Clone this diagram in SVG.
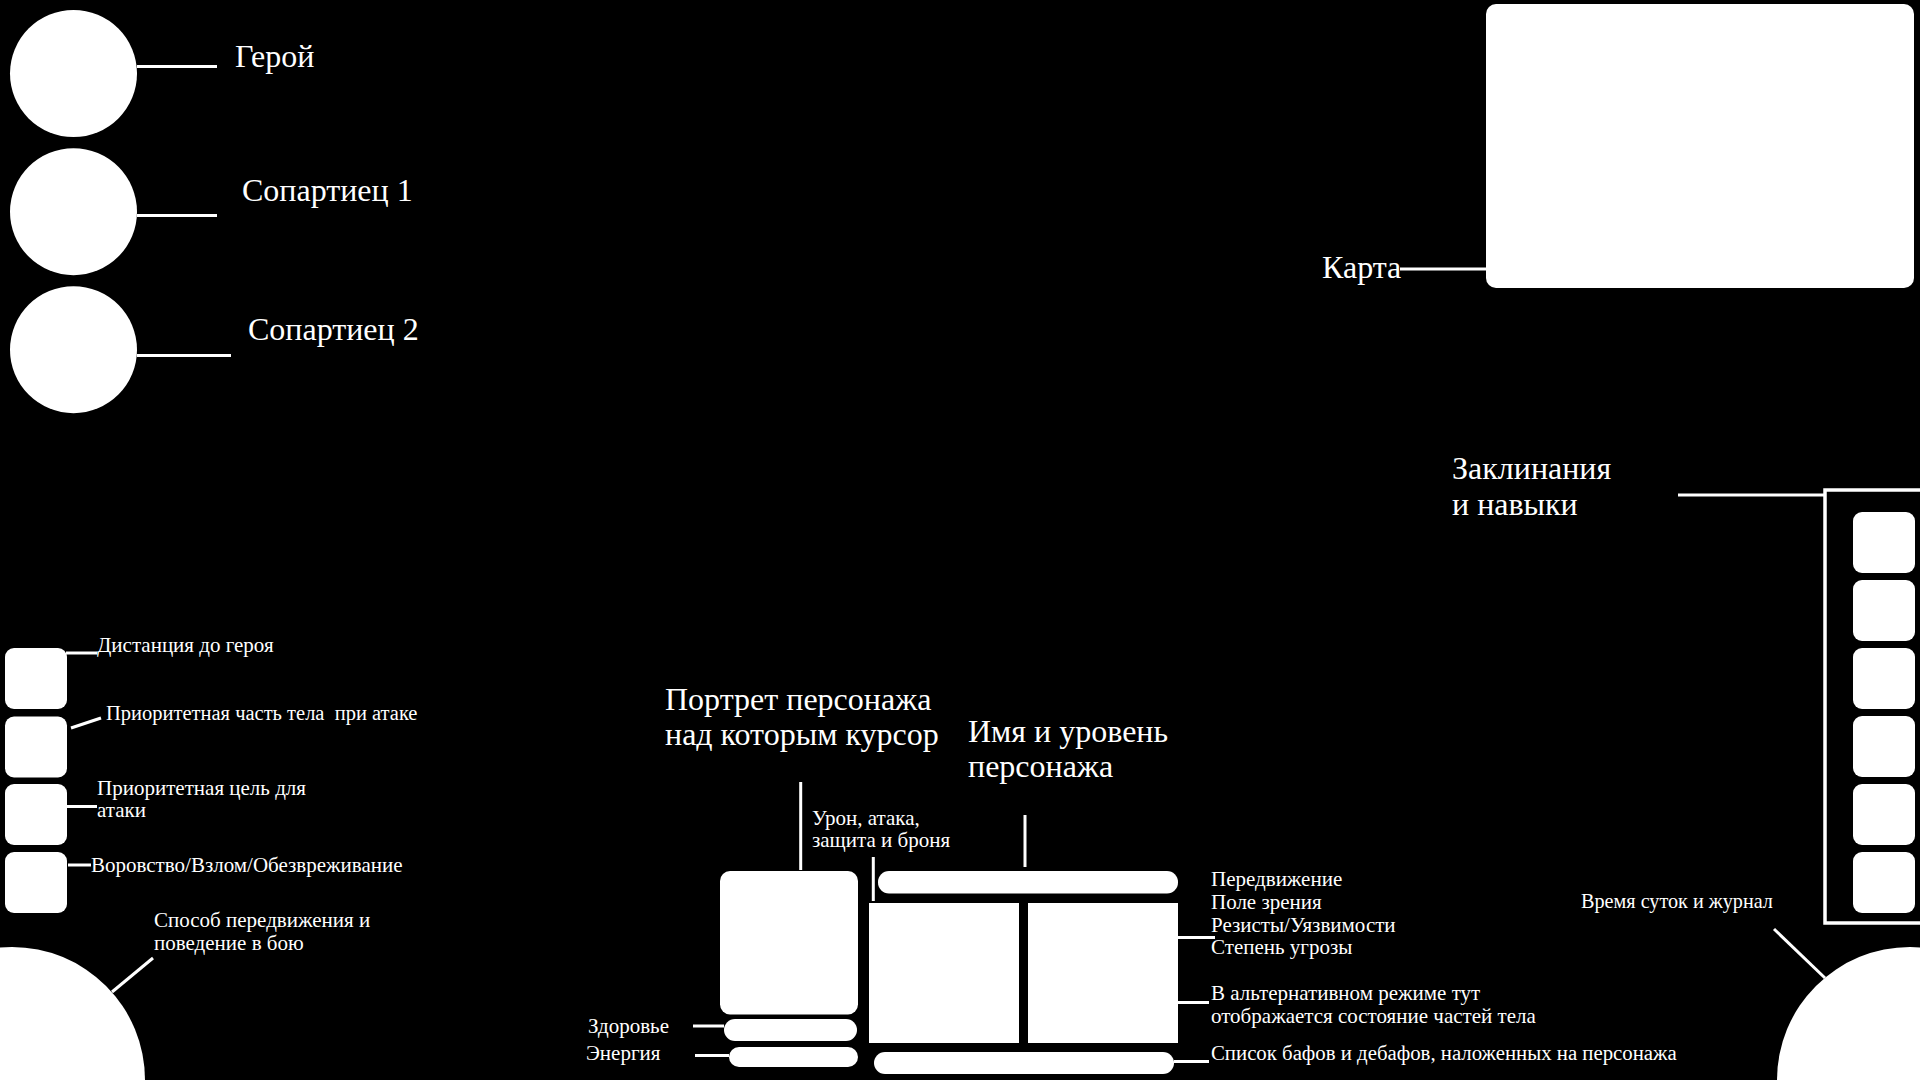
<svg xmlns="http://www.w3.org/2000/svg" width="1920" height="1080" viewBox="0 0 1920 1080">
<style>
.shape{fill:#fff}
.ln{stroke:#fff;stroke-width:3;fill:none}
text{white-space:pre}
.big{font-family:"Liberation Serif","Times New Roman",serif;font-size:32px;fill:#fff}
.mid{font-family:"Liberation Serif","Times New Roman",serif;font-size:32px;fill:#fff}
.sm{font-family:"Liberation Serif","Times New Roman",serif;font-size:21px;fill:#fff}
</style>
<rect x="0" y="0" width="1920" height="1080" fill="#000"/>
<g id="hero"><circle class="shape" cx="73.5" cy="73.5" r="63.5"/><text class="big" x="235" y="67">Герой</text></g>
<g id="companion1"><circle class="shape" cx="73.5" cy="211.7" r="63.5"/><text class="big" x="242" y="201">Сопартиец 1</text></g>
<g id="companion2"><circle class="shape" cx="73.5" cy="349.7" r="63.5"/><text class="big" x="248" y="340">Сопартиец 2</text></g>
<g id="map"><rect class="shape" x="1486" y="4" width="428" height="284" rx="10"/><text class="big" x="1322" y="278">Карта</text></g>
<g id="spells">
<rect x="1825" y="490" width="110" height="433" fill="none" stroke="#fff" stroke-width="3.5"/>
<rect class="shape" x="1853" y="512" width="62" height="61" rx="9"/>
<rect class="shape" x="1853" y="580" width="62" height="61" rx="9"/>
<rect class="shape" x="1853" y="648" width="62" height="61" rx="9"/>
<rect class="shape" x="1853" y="716" width="62" height="61" rx="9"/>
<rect class="shape" x="1853" y="784" width="62" height="61" rx="9"/>
<rect class="shape" x="1853" y="852" width="62" height="61" rx="9"/>
<text class="big" x="1452" y="479">Заклинания</text>
<text class="big" x="1452" y="515">и навыки</text>
</g>
<g id="distance"><rect class="shape" x="5" y="648" width="62" height="61" rx="9"/><text class="sm" x="97" y="652">Дистанция до героя</text></g>
<g id="bodypart"><rect class="shape" x="5" y="716.5" width="62" height="61" rx="9"/><text class="sm" x="106" y="720" style="font-size:20.5px" xml:space="preserve">Приоритетная часть тела  при атаке</text></g>
<g id="target"><rect class="shape" x="5" y="784" width="62" height="61" rx="9"/><text class="sm" x="97" y="795">Приоритетная цель для</text><text class="sm" x="97" y="817">атаки</text></g>
<g id="thievery"><rect class="shape" x="5" y="852" width="62" height="61" rx="9"/><text class="sm" x="91" y="872">Воровство/Взлом/Обезвреживание</text></g>
<g id="behavior"><circle class="shape" cx="12" cy="1080" r="133"/><text class="sm" x="154" y="927">Способ передвижения и</text><text class="sm" x="154" y="950">поведение в бою</text></g>
<g id="timelog"><circle class="shape" cx="1910" cy="1080" r="133"/><text class="sm" x="1581" y="908" style="font-size:20.2px">Время суток и журнал</text></g>
<g id="portrait"><rect class="shape" x="720" y="871" width="138" height="143.5" rx="10"/><text class="mid" x="665" y="710">Портрет персонажа</text><text class="mid" x="665" y="745">над которым курсор</text></g>
<g id="health"><rect class="shape" x="724" y="1019" width="133" height="22" rx="11"/><text class="sm" x="588" y="1033">Здоровье</text></g>
<g id="energy"><rect class="shape" x="729" y="1047" width="129" height="20" rx="10"/><text class="sm" x="586" y="1060">Энергия</text></g>
<g id="namebar"><rect class="shape" x="878" y="871" width="300" height="22.5" rx="11"/><text class="mid" x="968" y="742">Имя и уровень</text><text class="mid" x="968" y="777">персонажа</text></g>
<g id="combatstats"><rect class="shape" x="869" y="903" width="150" height="140"/><text class="sm" x="812" y="825">Урон, атака,</text><text class="sm" x="812" y="847">защита и броня</text></g>
<g id="infopanel"><rect class="shape" x="1028" y="903" width="150" height="140"/>
<text class="sm" x="1211" y="886">Передвижение</text>
<text class="sm" x="1211" y="909">Поле зрения</text>
<text class="sm" x="1211" y="932">Резисты/Уязвимости</text>
<text class="sm" x="1211" y="954">Степень угрозы</text>
<text class="sm" x="1211" y="1000">В альтернативном режиме тут</text>
<text class="sm" x="1211" y="1023">отображается состояние частей тела</text>
</g>
<g id="buffbar"><rect class="shape" x="874" y="1052" width="300" height="22" rx="11"/><text class="sm" x="1211" y="1060" style="font-size:20.8px">Список бафов и дебафов, наложенных на персонажа</text></g>
<g id="connectors">
<line class="ln" x1="137" y1="66.5" x2="217" y2="66.5"/>
<line class="ln" x1="137" y1="215.5" x2="217" y2="215.5"/>
<line class="ln" x1="137" y1="355.5" x2="231" y2="355.5"/>
<line class="ln" x1="1400" y1="269" x2="1486" y2="269"/>
<line class="ln" x1="1678" y1="495" x2="1825" y2="495"/>
<line class="ln" x1="66" y1="653" x2="97" y2="653"/>
<line class="ln" x1="71" y1="728" x2="101" y2="718"/>
<line class="ln" x1="67" y1="806.5" x2="97" y2="806.5"/>
<line class="ln" x1="68" y1="865" x2="91" y2="865"/>
<line class="ln" x1="153" y1="958" x2="112" y2="992"/>
<line class="ln" x1="1774" y1="929" x2="1825" y2="978"/>
<line class="ln" x1="800.7" y1="782" x2="800.7" y2="870"/>
<line class="ln" x1="873.3" y1="857" x2="873.3" y2="901"/>
<line class="ln" x1="1025" y1="815" x2="1025" y2="867"/>
<line class="ln" x1="693" y1="1026" x2="724" y2="1026"/>
<line class="ln" x1="695" y1="1055.5" x2="729" y2="1055.5"/>
<line class="ln" x1="1178" y1="937.5" x2="1215" y2="937.5"/>
<line class="ln" x1="1178" y1="1002.5" x2="1209" y2="1002.5"/>
<line class="ln" x1="1174" y1="1061.5" x2="1209" y2="1061.5"/>
</g>
</svg>
